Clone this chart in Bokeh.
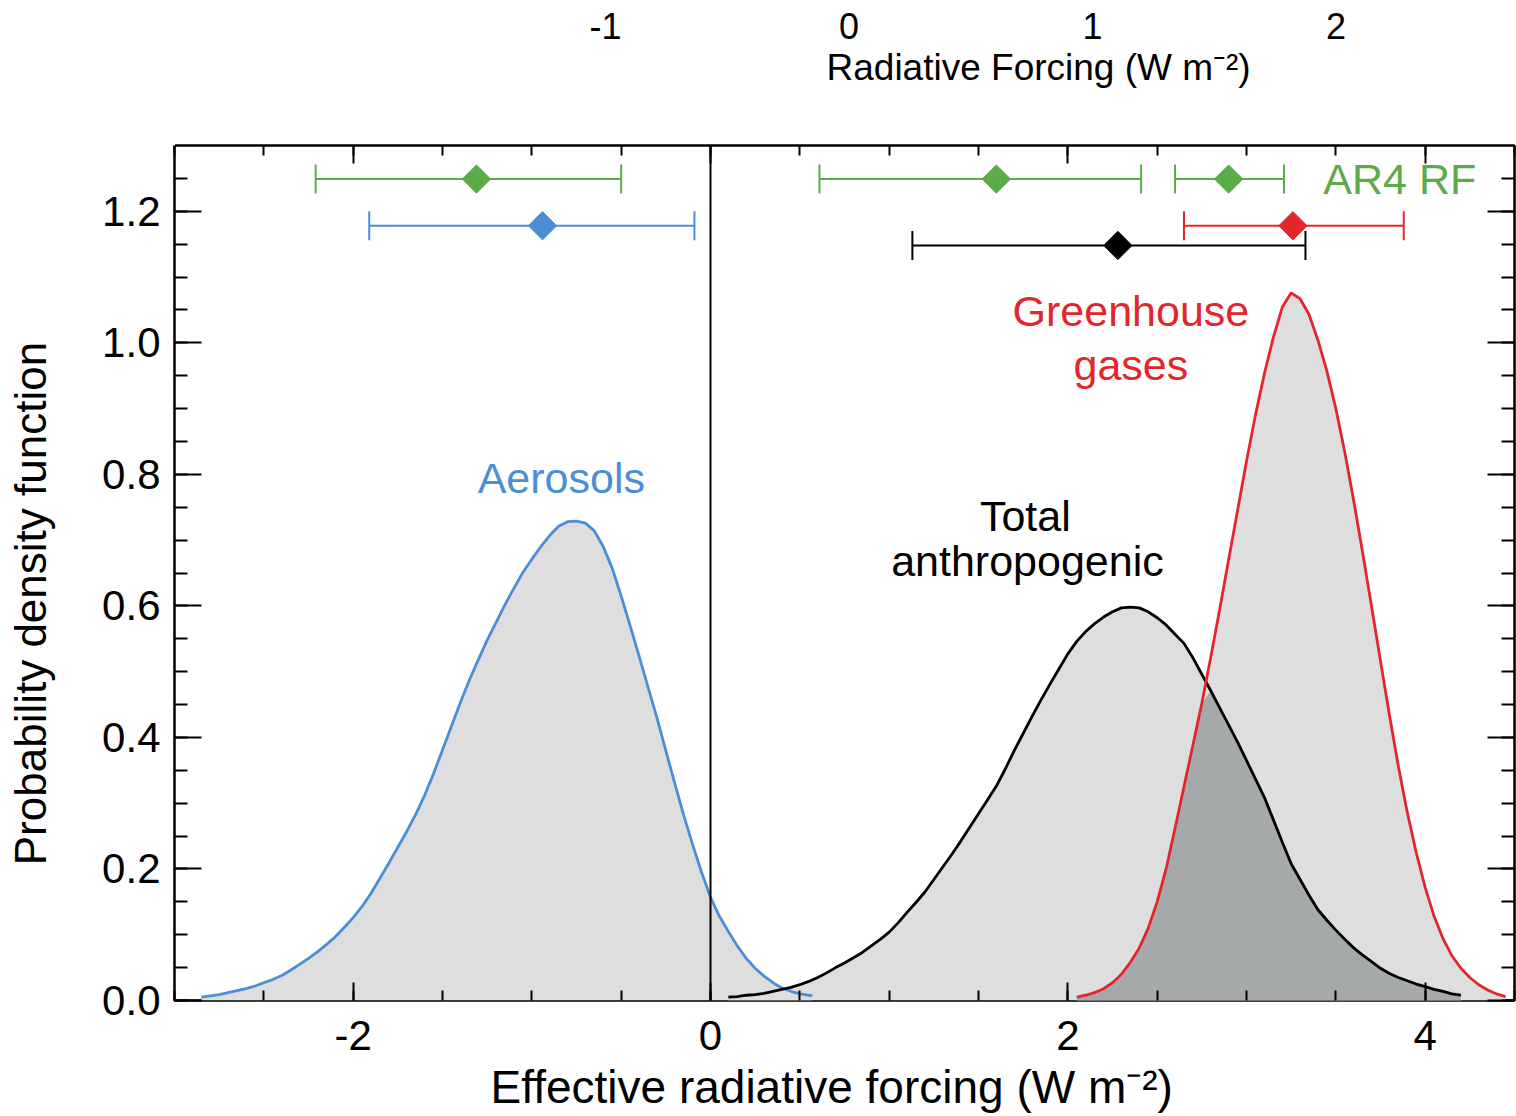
import numpy as np
from bokeh.plotting import figure
from bokeh.models import (Range1d, LinearAxis, SingleIntervalTicker, FixedTicker,
                          NumeralTickFormatter, Span, Label, Title)
from bokeh.embed import file_html
from bokeh.resources import INLINE

# ---- probability density functions (W m-2 vs. density) ----
aer_x = [-2.85, -2.80, -2.75, -2.70, -2.65, -2.60, -2.55, -2.50, -2.45, -2.40, -2.35, -2.30,
         -2.25, -2.20, -2.15, -2.10, -2.05, -2.00, -1.95, -1.90, -1.85, -1.80, -1.75, -1.70,
         -1.65, -1.60, -1.55, -1.50, -1.45, -1.40, -1.35, -1.30, -1.25, -1.20, -1.15, -1.10,
         -1.05, -1.00, -0.95, -0.90, -0.85, -0.80, -0.75, -0.70, -0.65, -0.60, -0.55, -0.50,
         -0.45, -0.40, -0.35, -0.30, -0.25, -0.20, -0.15, -0.10, -0.05, 0.00, 0.05, 0.10,
         0.15, 0.20, 0.25, 0.30, 0.35, 0.40, 0.45, 0.50, 0.57]
aer_y = [0.005, 0.007, 0.009, 0.012, 0.015, 0.018, 0.022, 0.027, 0.032, 0.038, 0.046, 0.055,
         0.064, 0.074, 0.085, 0.097, 0.111, 0.126, 0.143, 0.163, 0.186, 0.209, 0.233, 0.257,
         0.283, 0.312, 0.345, 0.381, 0.417, 0.453, 0.487, 0.518, 0.548, 0.575, 0.602, 0.627,
         0.651, 0.671, 0.690, 0.707, 0.721, 0.728, 0.729, 0.726, 0.714, 0.690, 0.657, 0.615,
         0.570, 0.524, 0.477, 0.430, 0.380, 0.330, 0.282, 0.237, 0.195, 0.157, 0.128, 0.105,
         0.083, 0.064, 0.049, 0.037, 0.027, 0.019, 0.014, 0.010, 0.007]

tot_x = [0.10, 0.15, 0.20, 0.25, 0.30, 0.35, 0.40, 0.45, 0.50, 0.55, 0.60, 0.65, 0.70, 0.75,
         0.80, 0.85, 0.90, 0.95, 1.00, 1.05, 1.10, 1.15, 1.20, 1.25, 1.30, 1.35, 1.40, 1.45,
         1.50, 1.55, 1.60, 1.65, 1.70, 1.75, 1.80, 1.85, 1.90, 1.95, 2.00, 2.05, 2.10, 2.15,
         2.20, 2.25, 2.30, 2.35, 2.40, 2.45, 2.50, 2.55, 2.60, 2.65, 2.70, 2.75, 2.80, 2.85,
         2.90, 2.95, 3.00, 3.05, 3.10, 3.15, 3.20, 3.25, 3.30, 3.35, 3.40, 3.45, 3.50, 3.55,
         3.60, 3.65, 3.70, 3.75, 3.80, 3.85, 3.90, 3.95, 4.00, 4.05, 4.10, 4.15, 4.20]
tot_y = [0.005, 0.006, 0.008, 0.009, 0.011, 0.014, 0.017, 0.020, 0.024, 0.029, 0.035, 0.042,
         0.050, 0.057, 0.065, 0.073, 0.083, 0.093, 0.104, 0.118, 0.134, 0.149, 0.165, 0.184,
         0.203, 0.222, 0.242, 0.263, 0.284, 0.305, 0.326, 0.352, 0.380, 0.406, 0.432, 0.457,
         0.481, 0.504, 0.527, 0.546, 0.561, 0.573, 0.583, 0.591, 0.597, 0.598, 0.597, 0.591,
         0.582, 0.571, 0.557, 0.543, 0.521, 0.496, 0.471, 0.445, 0.419, 0.393, 0.365, 0.337,
         0.309, 0.275, 0.241, 0.208, 0.184, 0.160, 0.138, 0.122, 0.107, 0.093, 0.080, 0.069,
         0.059, 0.049, 0.041, 0.035, 0.030, 0.025, 0.021, 0.017, 0.014, 0.010, 0.008]

ghg_x = [2.05, 2.10, 2.15, 2.20, 2.25, 2.30, 2.35, 2.40, 2.45, 2.50, 2.55, 2.60, 2.65,
         2.70, 2.75, 2.80, 2.85, 2.90, 2.95, 3.00, 3.05, 3.10, 3.15, 3.20, 3.25, 3.30,
         3.35, 3.40, 3.45, 3.50, 3.55, 3.60, 3.65, 3.70, 3.75, 3.80, 3.85, 3.90, 3.95,
         4.00, 4.05, 4.10, 4.15, 4.20, 4.25, 4.30, 4.35, 4.40, 4.45]
ghg_y = [0.005, 0.008, 0.012, 0.018, 0.027, 0.040, 0.058, 0.080, 0.110, 0.150, 0.200, 0.262,
         0.325, 0.388, 0.452, 0.522, 0.595, 0.670, 0.745, 0.820, 0.890, 0.953, 1.008, 1.054,
         1.076, 1.067, 1.043, 1.004, 0.957, 0.900, 0.834, 0.760, 0.681, 0.599, 0.516, 0.434,
         0.356, 0.286, 0.225, 0.172, 0.128, 0.094, 0.068, 0.049, 0.035, 0.024, 0.016, 0.010,
         0.006]

# ---- best estimates with 5-95% ranges ----
erf_best = [-0.94, 3.26, 2.28]          # aerosols, greenhouse gases, total
erf_low = [-1.91, 2.65, 1.13]
erf_high = [-0.09, 3.88, 3.33]
ar4_best = [-1.31, 1.60, 2.90]
ar4_low = [-2.21, 0.61, 2.60]
ar4_high = [-0.50, 2.41, 3.21]

# radiative forcing axis: ERF = RF_OFFSET + RF_SCALE * RF
RF_OFFSET = 0.775
RF_SCALE = 1.363
rf_ticks = [-1, 0, 1, 2]

FONT = "Liberation Sans"
BLUE = "#4a8fd6"
RED = "#e3262b"
GREEN = "#5bab48"
LIGHT = "#dedede"
DARK = "#a6a9a9"
NBSP = "\u00a0"

X0, X1 = -3.0, 4.5
p = figure(width=1516, height=1116, x_range=Range1d(X0, X1), y_range=Range1d(0, 1.3),
           output_backend="svg", toolbar_location=None,
           min_border_left=174, min_border_right=2, min_border_top=145, min_border_bottom=116)
p.background_fill_color = "white"
p.border_fill_color = "white"
p.outline_line_color = "black"
p.outline_line_width = 2.5
p.xgrid.visible = False
p.ygrid.visible = False

def style_ticks(ax, major, minor):
    ax.axis_line_color = None
    ax.major_tick_in = major
    ax.major_tick_out = 0
    ax.minor_tick_in = minor
    ax.minor_tick_out = 0
    ax.major_tick_line_width = 2
    ax.minor_tick_line_width = 2
    ax.major_tick_line_color = "black"
    ax.minor_tick_line_color = "black"

xticker = SingleIntervalTicker(interval=2, num_minor_ticks=4)
yticker = SingleIntervalTicker(interval=0.2, num_minor_ticks=4)

xa = p.xaxis[0]
xa.ticker = xticker
style_ticks(xa, 18, 10)
xa.formatter = NumeralTickFormatter(format="0")
xa.major_label_text_font = FONT
xa.major_label_text_font_size = "42px"
xa.major_label_text_color = "black"
xa.major_label_standoff = 20
# trailing no-break spaces move the centred title slightly left
xa.axis_label = "Effective radiative forcing (W m⁻²)" + NBSP * 2
xa.axis_label_text_font = FONT
xa.axis_label_text_font_size = "46px"
xa.axis_label_text_font_style = "normal"
xa.axis_label_text_color = "black"
xa.axis_label_standoff = 8

ya = p.yaxis[0]
ya.ticker = yticker
style_ticks(ya, 27, 13)
ya.formatter = NumeralTickFormatter(format="0.0")
ya.major_label_text_font = FONT
ya.major_label_text_font_size = "42px"
ya.major_label_text_color = "black"
ya.major_label_standoff = 14
# trailing no-break spaces move the centred title toward the lower end
ya.axis_label = "Probability density function" + NBSP * 5
ya.axis_label_text_font = FONT
ya.axis_label_text_font_size = "44px"
ya.axis_label_text_font_style = "normal"
ya.axis_label_text_color = "black"
ya.axis_label_standoff = 44

# mirrored ticks on the right and top edges
def mirror(ticker, major, minor):
    ax = LinearAxis(ticker=ticker, major_label_text_font_size="0px",
                    major_label_text_color=None, major_label_standoff=0)
    style_ticks(ax, major, minor)
    return ax

p.add_layout(mirror(yticker, 27, 13), "right")
p.add_layout(mirror(xticker, 18, 10), "above")

# blank axis (white tick at the left edge) that opens a gap above the frame
gap = LinearAxis(ticker=FixedTicker(ticks=[X0]), axis_line_color=None,
                 major_tick_in=0, major_tick_out=58, minor_tick_in=0, minor_tick_out=0,
                 major_tick_line_color="white", major_tick_line_width=1,
                 minor_tick_line_color=None,
                 major_label_text_font_size="0px", major_label_text_color=None)
p.add_layout(gap, "above")

# radiative forcing scale along the top, title sits between frame and tick labels
p.add_layout(Title(text="Radiative Forcing (W m⁻²)", align="left", offset=652,
                   text_font=FONT, text_font_size="37px", text_font_style="normal",
                   text_color="black", standoff=0), "above")
p.extra_x_ranges = {"rf": Range1d((X0 - RF_OFFSET) / RF_SCALE, (X1 - RF_OFFSET) / RF_SCALE)}
rfa = LinearAxis(x_range_name="rf", ticker=FixedTicker(ticks=rf_ticks),
                 formatter=NumeralTickFormatter(format="0"))
rfa.axis_line_color = None
rfa.major_tick_line_color = None
rfa.minor_tick_line_color = None
rfa.major_label_text_font = FONT
rfa.major_label_text_font_size = "36px"
rfa.major_label_text_color = "black"
rfa.major_label_standoff = 0
p.add_layout(rfa, "above")

# filled PDFs
p.varea(x=aer_x, y1=0, y2=aer_y, fill_color=LIGHT)
p.varea(x=tot_x, y1=0, y2=tot_y, fill_color=LIGHT)
p.varea(x=ghg_x, y1=0, y2=ghg_y, fill_color=LIGHT)
# overlap between total anthropogenic and greenhouse gas PDFs
ov_x = np.union1d(tot_x, ghg_x)
ov_x = ov_x[(ov_x >= max(tot_x[0], ghg_x[0])) & (ov_x <= min(tot_x[-1], ghg_x[-1]))]
ov_y = np.minimum(np.interp(ov_x, tot_x, tot_y), np.interp(ov_x, ghg_x, ghg_y))
p.varea(x=ov_x, y1=0, y2=ov_y, fill_color=DARK)

p.add_layout(Span(location=0, dimension="height", line_color="black", line_width=2))

p.line(aer_x, aer_y, line_color=BLUE, line_width=2.8)
p.line(tot_x, tot_y, line_color="black", line_width=2.8)
p.line(ghg_x, ghg_y, line_color=RED, line_width=2.8)

# uncertainty bars
ERF_ROWS = [1.178, 1.178, 1.148]
ERF_COLORS = [BLUE, RED, "black"]
AR4_ROW = 1.249

def bar(lo, best, hi, yrow, color):
    p.segment(x0=[lo], y0=[yrow], x1=[hi], y1=[yrow], line_color=color, line_width=2)
    p.scatter(x=[lo, hi], y=[yrow, yrow], marker="dash", angle=np.pi / 2, size=29,
              line_color=color, line_width=2)
    p.scatter(x=[best], y=[yrow], marker="square", angle=np.pi / 4, size=20,
              fill_color=color, line_color=color, line_width=1)

for i in range(3):
    bar(ar4_low[i], ar4_best[i], ar4_high[i], AR4_ROW, GREEN)
for i in range(3):
    bar(erf_low[i], erf_best[i], erf_high[i], ERF_ROWS[i], ERF_COLORS[i])

def label(x, y, text, color, align="center"):
    p.add_layout(Label(x=x, y=y, text=text, text_font=FONT, text_font_size="43px",
                       text_color=color, text_align=align, text_baseline="alphabetic"))

label(-0.835, 0.795, "Aerosols", BLUE)
label(2.353, 1.048, "Greenhouse", RED)
label(2.353, 0.967, "gases", RED)
label(1.762, 0.737, "Total", "black")
label(1.774, 0.668, "anthropogenic", "black")
label(3.43, 1.249, "AR4 RF", GREEN, align="left")

open("out.html", "w").write(file_html(p, INLINE))
